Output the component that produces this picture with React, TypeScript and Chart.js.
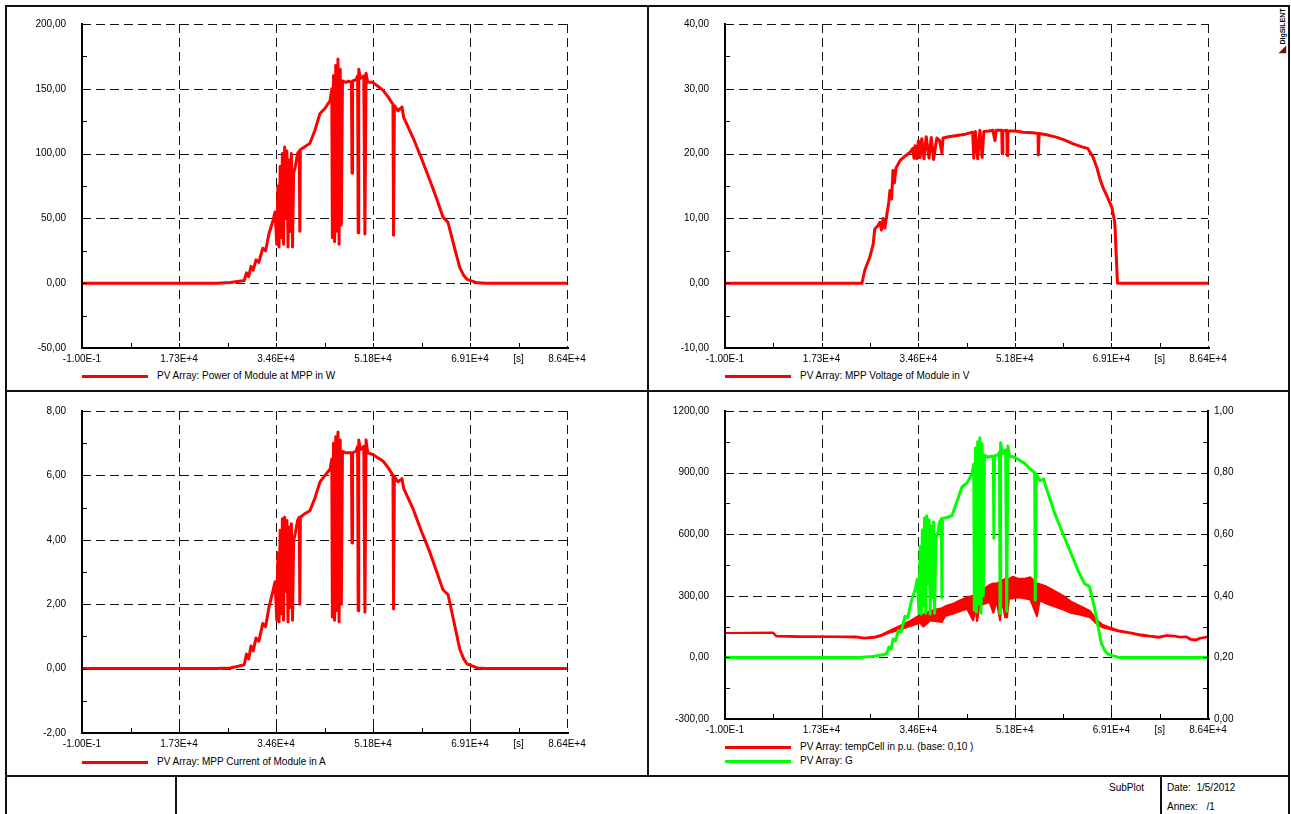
import { useEffect, useRef } from 'react';
import { Chart, registerables } from 'chart.js';

Chart.register(...registerables);

const FONT = "'Liberation Sans', Arial, Helvetica, sans-serif";
const RED = '#ff0000';
const GREEN = '#00ff00';

// ---- x axis (simulation time in s) ----
const xTickValues = [-0.1, 17280, 34560, 51840, 69120, 77760, 86400];
const xTickLabels = ['-1.00E-1', '1.73E+4', '3.46E+4', '5.18E+4', '6.91E+4', '[s]', '8.64E+4'];
const xGridValues = [-0.1, 17280, 34560, 51840, 69120, 86400];
const xMinorTicks = [8640, 17280, 25920, 34560, 43200, 51840, 60480, 69120, 77760];

// ---- y axes ----
const powerTicks = [-50, 0, 50, 100, 150, 200];
const voltageTicks = [-10, 0, 10, 20, 30, 40];
const currentTicks = [-2, 0, 2, 4, 6, 8];
const irradianceTicks = [-300, 0, 300, 600, 900, 1200];
const tempPuTicks = [0, 0.2, 0.4, 0.6, 0.8, 1.0];

// ---- series driven by irradiance (shared sampling times) ----
const sunTime = [
  0, 8640, 17280, 24000, 26400, 28000, 28900, 29300, 29700, 30100,
  30500, 31000, 31500, 32200, 32700, 33300, 34000, 34400, 34700, 34900,
  35100, 35300, 35500, 35700, 35900, 36100, 36300, 36500, 36700, 36900,
  37100, 37300, 37500, 37700, 38000, 38400, 38700, 38800, 38900, 39600,
  40600, 41500, 42400, 43300, 44200, 44500, 44600, 44800, 45000, 45200,
  45400, 45600, 45800, 46000, 46200, 46400, 47000, 47500, 48000, 48100,
  48200, 48800, 49100, 49200, 49300, 49600, 50200, 50400, 50600, 50900,
  51800, 52700, 53600, 54500, 55400, 55500, 55650, 56300, 57000, 57300,
  59000, 60500, 62000, 63200, 64300, 65200, 66200, 67300, 68000, 68600,
  70400, 72000, 80000, 86400,
];
const powerW = [
  0, 0, 0, 0, 0.5, 1.5, 2, 8, 5, 13,
  10, 18, 16, 27, 25, 38, 48, 55, 30, 75,
  28, 90, 35, 100, 30, 105, 50, 102, 28, 95,
  40, 100, 28, 85, 90, 100, 102, 40, 103, 105,
  108, 118, 131, 135, 141, 150, 35, 160, 32, 168,
  40, 173, 30, 165, 45, 156, 155, 156, 155, 85,
  156, 157, 160, 39, 165, 158, 160, 38, 162, 155,
  155, 152, 149, 144, 138, 37, 137, 133, 136, 128,
  112, 96, 79, 65, 51, 47, 30, 12, 6, 3,
  0.3, 0, 0, 0,
];
const currentA = [
  0, 0, 0, 0, 0.02, 0.08, 0.12, 0.45, 0.3, 0.7,
  0.55, 0.95, 0.85, 1.4, 1.3, 1.9, 2.4, 2.7, 1.5, 3.6,
  1.45, 4.3, 1.7, 4.65, 1.5, 4.7, 2.4, 4.6, 1.45, 4.4,
  1.9, 4.5, 1.5, 4.0, 4.2, 4.6, 4.7, 2.0, 4.7, 4.8,
  4.9, 5.3, 5.8, 6.0, 6.2, 6.5, 1.6, 7.0, 1.5, 7.2,
  1.8, 7.35, 1.45, 7.1, 2.0, 6.75, 6.7, 6.7, 6.7, 3.9,
  6.7, 6.75, 6.9, 1.8, 7.1, 6.8, 6.9, 1.75, 7.1, 6.7,
  6.65, 6.55, 6.45, 6.25, 6.0, 1.85, 5.95, 5.8, 5.9, 5.6,
  4.95, 4.25, 3.6, 3.0, 2.45, 2.3, 1.5, 0.6, 0.3, 0.15,
  0.02, 0, 0, 0,
];
const irradianceG = [
  0, 0, 0, 0, 5, 12, 18, 50, 40, 90,
  80, 130, 125, 200, 195, 270, 330, 380, 215, 540,
  210, 620, 250, 680, 215, 690, 360, 670, 210, 640,
  290, 660, 215, 580, 600, 660, 675, 290, 678, 680,
  690, 760, 830, 850, 895, 940, 230, 1020, 220, 1050,
  260, 1070, 215, 1040, 300, 985, 975, 980, 978, 580,
  982, 985, 1000, 214, 1045, 990, 1010, 225, 1030, 980,
  975, 960, 945, 920, 900, 278, 895, 860, 870, 840,
  700, 600, 500, 420, 360, 345, 230, 70, 30, 15,
  0, 0, 0, 0,
];

// ---- MPP voltage ----
const voltageTime = [
  0, 8640, 17280, 24500, 25000, 25900, 26500, 26800, 27300, 27700,
  28000, 28300, 28600, 28900, 29300, 29500, 29800, 30050, 30300, 30600,
  31300, 32200, 33100, 33600, 33800, 34000, 34300, 34600, 34900, 35200,
  35600, 36000, 36500, 36900, 37300, 37900, 38400, 38800, 39000, 40000,
  41500, 43000, 44300, 44500, 44800, 45200, 45600, 46000, 46300, 47200,
  47900, 48300, 48500, 49500, 49600, 49700, 50400, 50500, 50600, 52000,
  53300, 55000, 56000, 56050, 56200, 57500, 59400, 61000, 62300, 64000,
  64900, 65800, 66500, 67100, 67600, 68300, 69200, 69700, 69800, 70000,
  70100, 70200, 70300, 80000, 86400,
];
const voltageV = [
  0, 0, 0, 0, 2, 4, 6, 8.4, 8.8, 9.4,
  8.2, 10, 8.5, 10.3, 12.5, 14.3, 13, 17.4, 15.5, 17.8,
  18.9, 19.6, 20.2, 20.8, 19.3, 21.2, 19.2, 22, 19.4, 22.3,
  19.2, 22.6, 19.3, 22.5, 19.1, 22.4, 22, 20, 22.4, 22.6,
  22.8, 23, 23.3, 19.3, 23.4, 19.2, 23.6, 19.4, 23.4, 23.5,
  23.6, 22, 23.6, 23.6, 20, 23.5, 23.6, 19.7, 23.5, 23.5,
  23.3, 23.2, 23.1, 19.8, 23.1, 22.9, 22.5, 22, 21.5, 21,
  20.8, 19.5, 17.9, 16, 14.8, 13.5, 11.7, 9.5, 8.1, 4,
  4, 0, 0, 0, 0,
];

// ---- cell temperature (p.u.), lower and upper edge of the noisy trace ----
const tempTime = [
  0, 8600, 9200, 13400, 18800, 23400, 24900, 26800, 28000, 29300,
  31300, 33100, 34900, 35500, 36700, 37500, 38800, 39400, 40800, 42000,
  43300, 44400, 44800, 45100, 45500, 46500, 47300, 48000, 48600, 49200,
  49600, 50100, 50450, 50800, 51500, 52500, 53500, 54600, 55800, 56300,
  57500, 59000, 60500, 62000, 63200, 64300, 65300, 66000, 66700, 67500,
  68700, 70500, 72500, 74500, 76000, 77600, 79000, 80500, 81200, 82500,
  83300, 84200, 85000, 86400,
];
const tempLowPu = [
  0.279, 0.279, 0.268, 0.266, 0.267, 0.265, 0.261, 0.264, 0.27, 0.28,
  0.29, 0.302, 0.312, 0.3, 0.32, 0.318, 0.315, 0.335, 0.342, 0.35,
  0.358, 0.32, 0.362, 0.318, 0.368, 0.375, 0.38, 0.345, 0.385, 0.32,
  0.388, 0.33, 0.33, 0.39, 0.392, 0.395, 0.392, 0.388, 0.334, 0.385,
  0.375, 0.365, 0.355, 0.344, 0.34, 0.335, 0.33, 0.318, 0.305, 0.298,
  0.292, 0.284, 0.278, 0.27, 0.268, 0.264, 0.27, 0.268, 0.265, 0.266,
  0.257, 0.255, 0.261, 0.266,
];
const tempHighPu = [
  0.279, 0.281, 0.27, 0.269, 0.268, 0.268, 0.264, 0.267, 0.274, 0.285,
  0.302, 0.318, 0.338, 0.34, 0.35, 0.355, 0.36, 0.366, 0.374, 0.385,
  0.395, 0.4, 0.405, 0.41, 0.42, 0.425, 0.435, 0.44, 0.44, 0.445,
  0.45, 0.455, 0.452, 0.455, 0.462, 0.455, 0.455, 0.46, 0.44, 0.438,
  0.43, 0.415, 0.4, 0.38, 0.37, 0.36, 0.35, 0.334, 0.318, 0.306,
  0.298, 0.287, 0.281, 0.274, 0.27, 0.267, 0.272, 0.27, 0.267, 0.268,
  0.26, 0.258, 0.263, 0.268,
];

const fmtComma = (v: number) => v.toFixed(2).replace('.', ',');

function midpoints(t: number[]): number[] {
  const out: number[] = [];
  for (let i = 0; i < t.length - 1; i++) out.push((t[i] + t[i + 1]) / 2);
  return out;
}

function makeFramePlugin(yTicks: number[], y2Ticks?: number[]) {
  const yMinor = midpoints(yTicks);
  const y2Minor = y2Ticks ? midpoints(y2Ticks) : [];
  return {
    id: 'frameGrid',
    beforeDatasetsDraw(chart: any) {
      const { ctx, chartArea: a } = chart;
      const xs = chart.scales.x;
      const ys = chart.scales.y;
      ctx.save();
      ctx.strokeStyle = '#111';
      ctx.lineWidth = 1;
      ctx.setLineDash([9, 5]);
      ctx.beginPath();
      xGridValues.forEach((v) => {
        if (v <= xs.min) return;
        const px = Math.round(xs.getPixelForValue(v)) + 0.5;
        ctx.moveTo(px, a.top);
        ctx.lineTo(px, a.bottom);
      });
      yTicks.forEach((v) => {
        if (v <= ys.min) return;
        const py = Math.round(ys.getPixelForValue(v)) + 0.5;
        ctx.moveTo(a.left, py);
        ctx.lineTo(a.right, py);
      });
      ctx.stroke();
      ctx.restore();
    },
    afterDatasetsDraw(chart: any) {
      const { ctx, chartArea: a } = chart;
      const xs = chart.scales.x;
      const ys = chart.scales.y;
      const L = Math.round(a.left);
      const R = Math.round(a.right);
      const B = Math.round(a.bottom);
      ctx.save();
      ctx.setLineDash([]);
      ctx.strokeStyle = '#000';
      ctx.lineWidth = 1;
      ctx.beginPath();
      xMinorTicks.forEach((v) => {
        const px = Math.round(xs.getPixelForValue(v)) + 0.5;
        ctx.moveTo(px, B);
        ctx.lineTo(px, B - 5);
      });
      [...yTicks, ...yMinor].forEach((v) => {
        const py = Math.round(ys.getPixelForValue(v)) + 0.5;
        ctx.moveTo(L, py);
        ctx.lineTo(L + 5, py);
      });
      if (y2Ticks) {
        const y2 = chart.scales.y2;
        [...y2Ticks, ...y2Minor].forEach((v) => {
          const py = Math.round(y2.getPixelForValue(v)) + 0.5;
          ctx.moveTo(R, py);
          ctx.lineTo(R - 5, py);
        });
      }
      ctx.stroke();
      ctx.lineWidth = 2;
      ctx.beginPath();
      ctx.moveTo(L, Math.round(a.top) - 1);
      ctx.lineTo(L, B + 1);
      ctx.moveTo(L - 1, B);
      ctx.lineTo(R + 2, B);
      if (y2Ticks) {
        ctx.moveTo(R, Math.round(a.top) - 1);
        ctx.lineTo(R, B + 1);
      }
      ctx.stroke();
      ctx.restore();
    },
  };
}

type Series = {
  x: number[];
  y: number[];
  color: string;
  axis?: 'y' | 'y2';
  fillNext?: boolean;
  order: number;
  width?: number;
};

interface PanelProps {
  left: number;
  top: number;
  width: number;
  height: number;
  plotLeft: number;
  plotTop: number;
  plotRight: number;
  plotBottom: number;
  yTicks: number[];
  y2Ticks?: number[];
  series: Series[];
}

function ChartPanel(p: PanelProps) {
  const ref = useRef<HTMLCanvasElement>(null);
  useEffect(() => {
    const canvas = ref.current;
    if (!canvas) return;
    const yW = p.plotLeft - p.left;
    const rightSpace = p.left + p.width - p.plotRight;
    const xH = p.top + p.height - p.plotBottom;
    const padTop = p.plotTop - p.top;
    const tickFont = { family: FONT, size: 10 };
    const yScale = (ticks: number[], position: string, padding: number, width: number) => ({
      type: 'linear',
      position,
      min: ticks[0],
      max: ticks[ticks.length - 1],
      afterBuildTicks: (s: any) => {
        s.ticks = ticks.map((v) => ({ value: v }));
      },
      afterFit: (s: any) => {
        s.width = width;
        s.paddingTop = 0;
        s.paddingBottom = 0;
      },
      ticks: {
        color: '#000',
        font: tickFont,
        padding,
        autoSkip: false,
        callback: (v: any) => fmtComma(Number(v)),
      },
      grid: { display: false, drawTicks: false },
      border: { display: false },
    });
    const scales: any = {
      x: {
        type: 'linear',
        position: 'bottom',
        min: -0.1,
        max: 86400,
        afterBuildTicks: (s: any) => {
          s.ticks = xTickValues.map((v) => ({ value: v }));
        },
        afterFit: (s: any) => {
          s.height = xH;
          s.paddingLeft = 0;
          s.paddingRight = 0;
        },
        ticks: {
          color: '#000',
          font: tickFont,
          padding: 5,
          autoSkip: false,
          maxRotation: 0,
          minRotation: 0,
          callback: (_v: any, i: number) => xTickLabels[i],
        },
        grid: { display: false, drawTicks: false },
        border: { display: false },
      },
      y: yScale(p.yTicks, 'left', 16, yW),
    };
    if (p.y2Ticks) scales.y2 = yScale(p.y2Ticks, 'right', 6, rightSpace);

    const datasets = p.series.map((s) => ({
      data: s.x.map((t, i) => ({ x: t, y: s.y[i] })),
      yAxisID: s.axis || 'y',
      borderColor: s.color,
      backgroundColor: s.color,
      borderWidth: s.width ?? 3,
      pointRadius: 0,
      pointHoverRadius: 0,
      tension: 0,
      fill: s.fillNext ? '+1' : false,
      borderJoinStyle: 'round',
      borderCapStyle: 'round',
      order: s.order,
    }));

    const chart = new Chart(canvas, {
      type: 'line',
      data: { datasets } as any,
      options: {
        animation: false,
        responsive: false,
        devicePixelRatio: 1,
        events: [],
        layout: { padding: { left: 0, top: padTop, right: p.y2Ticks ? 0 : rightSpace, bottom: 0 } },
        scales,
        plugins: { legend: { display: false }, tooltip: { enabled: false }, title: { display: false } },
      } as any,
      plugins: [makeFramePlugin(p.yTicks, p.y2Ticks) as any],
    });
    return () => chart.destroy();
  }, []);
  return (
    <canvas
      ref={ref}
      width={p.width}
      height={p.height}
      style={{ position: 'absolute', left: p.left, top: p.top, width: p.width, height: p.height }}
    />
  );
}

function LegendItem({ left, y, color, text }: { left: number; y: number; color: string; text: string }) {
  return (
    <>
      <div style={{ position: 'absolute', left, top: y - 1, width: 66, height: 3, background: color }} />
      <div
        style={{
          position: 'absolute',
          left: left + 75,
          top: y - 6,
          height: 12,
          lineHeight: '12px',
          fontSize: 10,
          whiteSpace: 'nowrap',
        }}
      >
        {text}
      </div>
    </>
  );
}

function Line({ l, t, w, h }: { l: number; t: number; w: number; h: number }) {
  return <div style={{ position: 'absolute', left: l, top: t, width: w, height: h, background: '#111' }} />;
}

export default function App() {
  return (
    <div
      style={{
        position: 'absolute',
        left: 0,
        top: 0,
        width: 1291,
        height: 814,
        overflow: 'hidden',
        background: '#fff',
        fontFamily: FONT,
        color: '#000',
      }}
    >
      <ChartPanel
        left={8}
        top={10}
        width={600}
        height={360}
        plotLeft={82}
        plotTop={24}
        plotRight={567}
        plotBottom={348}
        yTicks={powerTicks}
        series={[{ x: sunTime, y: powerW, color: RED, order: 0 }]}
      />
      <ChartPanel
        left={651}
        top={10}
        width={600}
        height={360}
        plotLeft={725}
        plotTop={24}
        plotRight={1208}
        plotBottom={348}
        yTicks={voltageTicks}
        series={[{ x: voltageTime, y: voltageV, color: RED, order: 0 }]}
      />
      <ChartPanel
        left={8}
        top={397}
        width={600}
        height={358}
        plotLeft={82}
        plotTop={411}
        plotRight={567}
        plotBottom={733}
        yTicks={currentTicks}
        series={[{ x: sunTime, y: currentA, color: RED, order: 0 }]}
      />
      <ChartPanel
        left={651}
        top={397}
        width={610}
        height={344}
        plotLeft={725}
        plotTop={411}
        plotRight={1208}
        plotBottom={719}
        yTicks={irradianceTicks}
        y2Ticks={tempPuTicks}
        series={[
          { x: sunTime, y: irradianceG, color: GREEN, order: 0 },
          { x: tempTime, y: tempHighPu, color: RED, axis: 'y2', fillNext: true, order: 1, width: 2 },
          { x: tempTime, y: tempLowPu, color: RED, axis: 'y2', order: 2, width: 2 },
        ]}
      />

      <LegendItem left={82} y={376} color={RED} text="PV Array: Power of Module at MPP in W" />
      <LegendItem left={725} y={376} color={RED} text="PV Array: MPP Voltage of Module in V" />
      <LegendItem left={82} y={762} color={RED} text="PV Array: MPP Current of Module in A" />
      <LegendItem left={725} y={747} color={RED} text="PV Array: tempCell in p.u. (base: 0,10 )" />
      <LegendItem left={725} y={761} color={GREEN} text="PV Array: G" />

      {/* frame */}
      <Line l={5} t={5} w={1285} h={2} />
      <Line l={5} t={5} w={2} h={809} />
      <Line l={1288} t={5} w={2} h={809} />
      <Line l={647} t={5} w={2} h={772} />
      <Line l={5} t={390} w={1285} h={2} />
      <Line l={5} t={775} w={1285} h={2} />
      <Line l={175} t={775} w={2} h={39} />
      <Line l={1160} t={775} w={2} h={39} />

      {/* footer */}
      <div style={{ position: 'absolute', left: 1109, top: 782, fontSize: 10, lineHeight: '12px' }}>SubPlot</div>
      <div style={{ position: 'absolute', left: 1167, top: 782, fontSize: 10, lineHeight: '12px', whiteSpace: 'pre' }}>
        {'Date:  1/5/2012'}
      </div>
      <div style={{ position: 'absolute', left: 1167, top: 801, fontSize: 10, lineHeight: '12px', whiteSpace: 'pre' }}>
        {'Annex:   /1'}
      </div>

      {/* logo */}
      <div
        style={{
          position: 'absolute',
          left: 1262,
          top: 22,
          width: 40,
          height: 9,
          fontSize: 7,
          lineHeight: '9px',
          fontWeight: 'bold',
          textAlign: 'center',
          transform: 'rotate(-90deg)',
          whiteSpace: 'nowrap',
        }}
      >
        DIgSILENT
      </div>
      <svg style={{ position: 'absolute', left: 1278, top: 45 }} width={9} height={9}>
        <polygon points="1,8 8,8 8,1" fill="#8b0000" stroke="#333" strokeWidth={0.5} />
      </svg>
    </div>
  );
}
